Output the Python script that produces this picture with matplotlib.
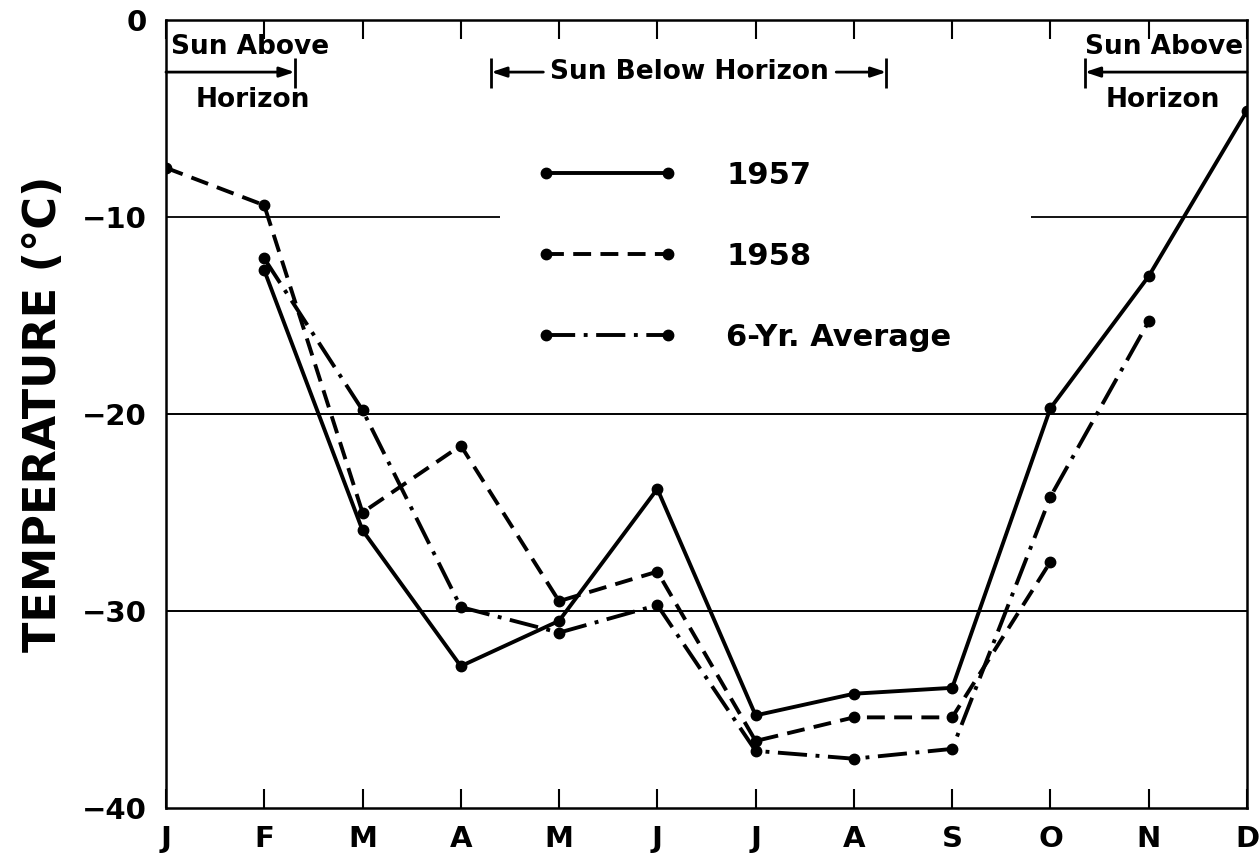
import matplotlib
matplotlib.use("Agg")
import matplotlib.pyplot as plt

months = ["J", "F", "M", "A", "M", "J", "J", "A", "S", "O", "N", "D"]

# monthly mean temperatures (deg C); None = no value
temp_1957 = [None, -12.7, -25.9, -32.8, -30.5, -23.8, -35.3, -34.2, -33.9, -19.7, -13.0, -4.6]
temp_1958 = [-7.5, -9.4, -25.0, -21.6, -29.5, -28.0, -36.6, -35.4, -35.4, -27.5, None, None]
temp_avg = [None, -12.1, -19.8, -29.8, -31.1, -29.7, -37.1, -37.5, -37.0, -24.2, -15.3, None]

labels = ["1957", "1958", "6-Yr. Average"]

plt.rcParams['font.family'] = ['DejaVu Sans']
plt.rcParams['font.weight'] = 'bold'

fig = plt.figure(figsize=(12.6, 8.55), dpi=100)
ax = fig.add_axes([0.1317, 0.055, 0.858, 0.9215])


def pts(vals):
    xs = [i for i, v in enumerate(vals) if v is not None]
    ys = [v for v in vals if v is not None]
    return xs, ys


lw = 2.8
ms = 7.5
x, y = pts(temp_1957)
l1, = ax.plot(x, y, color='black', lw=lw, marker='o', ms=ms, label=labels[0])
x, y = pts(temp_1958)
l2, = ax.plot(x, y, color='black', lw=lw, marker='o', ms=ms, dashes=(4.6, 2.4), label=labels[1])
x, y = pts(temp_avg)
l3, = ax.plot(x, y, color='black', lw=lw, marker='o', ms=ms, dashes=(7.5, 2.2, 1.0, 2.2), label=labels[2])

# reference lines (the -10 line is broken around the key)
ax.hlines(-10, 0, 3.4, color='black', lw=1.3)
ax.hlines(-10, 8.8, 11, color='black', lw=1.3)
ax.hlines([-20, -30], 0, 11, color='black', lw=1.4)

ax.set_xlim(0, 11)
ax.set_ylim(-40, 0)
ax.set_xticks(range(12))
ax.set_xticklabels(months, fontsize=21, fontweight='bold')
ax.set_yticks([0, -10, -20, -30, -40])
ax.set_yticklabels(["0", "\u221210", "\u221220", "\u221230", "\u221240"], fontsize=21, fontweight='bold')
ax.tick_params(axis='x', direction='in', length=14, width=1.5, top=True, pad=12)
ax.tick_params(axis='y', length=0, pad=14)
for s in ax.spines.values():
    s.set_linewidth(1.8)

ax.set_ylabel("TEMPERATURE (\u00b0C)", fontsize=32, fontweight='bold', labelpad=12)

# sun annotations
ay = -2.64
tkw = dict(fontsize=19, fontweight='bold', ha='center', va='center')
akw = dict(arrowstyle='-|>,head_length=0.9,head_width=0.3', color='black', lw=2, shrinkA=0, shrinkB=0)
ax.text(0.86, -1.37, "Sun Above", **tkw)
ax.text(0.88, -4.06, "Horizon", **tkw)
ax.annotate("", xy=(1.31, ay), xytext=(0, ay), arrowprops=akw)
ax.vlines(1.31, -1.93, -3.45, color='black', lw=2)

ax.text(5.33, ay, "Sun Below Horizon", **tkw)
ax.annotate("", xy=(3.31, ay), xytext=(3.84, ay), arrowprops=akw)
ax.annotate("", xy=(7.33, ay), xytext=(6.82, ay), arrowprops=akw)
ax.vlines([3.31, 7.33], -1.93, -3.45, color='black', lw=2)

ax.text(10.16, -1.37, "Sun Above", **tkw)
ax.text(10.14, -4.06, "Horizon", **tkw)
ax.annotate("", xy=(9.35, ay), xytext=(11, ay), arrowprops=akw)
ax.vlines(9.35, -1.93, -3.45, color='black', lw=2)

ax.legend(handles=[l1, l2, l3], loc='upper left', bbox_to_anchor=(0.343, 0.821),
          frameon=False, numpoints=2, handlelength=4.6,
          handletextpad=1.6, labelspacing=1.7, borderpad=0, borderaxespad=0,
          prop={'weight': 'bold', 'size': 22})

fig.savefig("out.png", dpi=100)
